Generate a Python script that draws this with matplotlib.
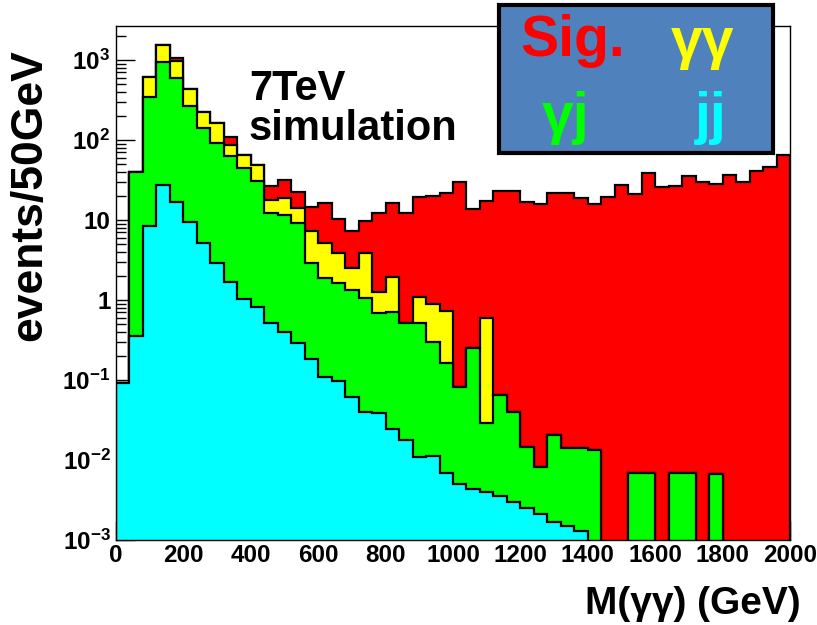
import numpy as np
import matplotlib
matplotlib.use('Agg')
import matplotlib.pyplot as plt
from matplotlib.patches import Rectangle
from matplotlib.ticker import LogLocator, NullFormatter, MultipleLocator

# 50 bins of 40 GeV from 0 to 2000 GeV
bin_edges = np.arange(0, 2001, 40)

# stack levels (each level includes the ones below it)
jj_top = [0.092, 0.355, 8.3, 27.4, 16.9, 9.4, 5.1, 2.9, 1.7, 1.02,
          0.82, 0.51, 0.40, 0.286, 0.181, 0.109, 0.098, 0.061, 0.0394, 0.039,
          0.0242, 0.0178, 0.0108, 0.0112, 0.0069, 0.0050, 0.0044, 0.0040, 0.0035, 0.0030,
          0.0025, 0.0021, 0.0017, 0.0015, 0.0013, 0, 0, 0, 0, 0,
          0, 0, 0, 0, 0, 0, 0, 0, 0, 0]
gj_top = [0.092, 39.8, 348, 952, 590, 266, 140, 91, 63, 44.7,
          31, 12.2, 11.5, 9.25, 2.88, 1.90, 1.64, 1.33, 1.05, 0.683,
          0.714, 0.512, 0.512, 0.299, 0.162, 0.081, 0.249, 0.0288, 0.065, 0.040,
          0.0147, 0.0082, 0.0205, 0.0140, 0.0140, 0.0135, 0, 0, 0.0069, 0.0069,
          0, 0.0069, 0.0068, 0, 0.0066, 0, 0, 0, 0, 0]
gg_top = [0.092, 39.8, 618, 1540, 980, 430, 226, 162, 86.6, 65,
          48.7, 17.8, 18.8, 14.3, 7.29, 5.11, 3.90, 2.49, 3.84, 1.27,
          1.95, 0.512, 1.08, 0.891, 0.729, 0.081, 0.249, 0.601, 0.065, 0.040,
          0.0147, 0.0082, 0.0205, 0.0140, 0.0140, 0.0135, 0, 0, 0.0069, 0.0069,
          0, 0.0069, 0.0068, 0, 0.0066, 0, 0, 0, 0, 0]
sig_top = [0.092, 39.8, 618, 1540, 1050, 430, 226, 162, 110, 65,
           48.7, 26.6, 31.6, 22.6, 14.7, 16.5, 10.3, 7.35, 9.8, 12.3,
           16.5, 12.3, 19.5, 20.1, 21.9, 30.1, 13.6, 17.3, 23.0, 23.0,
           16.9, 15.7, 21.6, 21.6, 18.7, 15.7, 19.5, 27.2, 21.1, 39.0,
           25.5, 26.6, 35.8, 30.1, 28.2, 36.5, 30.1, 41.3, 45.6, 65]

x_ticks = np.arange(0, 2001, 200)
y_ticks = [1e-3, 1e-2, 1e-1, 1, 10, 1e2, 1e3]
y_tick_labels = [r'$\mathbf{10^{-3}}$', r'$\mathbf{10^{-2}}$', r'$\mathbf{10^{-1}}$',
                 '1', '10', r'$\mathbf{10^{2}}$', r'$\mathbf{10^{3}}$']

legend_labels = ['Sig.', 'γγ', 'γj', 'jj']

plt.rcParams['font.family'] = ['Liberation Sans', 'DejaVu Sans']
plt.rcParams['font.weight'] = 'bold'
plt.rcParams['mathtext.fontset'] = 'custom'
plt.rcParams['mathtext.rm'] = 'Liberation Sans:bold'
plt.rcParams['mathtext.bf'] = 'Liberation Sans:bold'

W, H = 817, 625
fig = plt.figure(figsize=(W / 100, H / 100), dpi=100)
ax = fig.add_axes([116 / W, 1 - 540 / H, (790 - 116) / W, (540 - 26) / H])
ax.set_yscale('log')

floor = 1e-6
layers = [(sig_top, '#ff0000'), (gg_top, '#ffff00'), (gj_top, '#00ff00'), (jj_top, '#00ffff')]
for vals, col in layers:
    v = np.clip(np.asarray(vals, dtype=float), floor, None)
    ax.stairs(v, bin_edges, baseline=floor, fill=True, color=col, lw=0)
    ax.stairs(v, bin_edges, baseline=floor, color='black', lw=1.6)

ax.set_xlim(0, 2000)
ax.set_ylim(1e-3, 2660)
ax.set_axisbelow(True)

ax.set_xticks(x_ticks)
ax.xaxis.set_minor_locator(MultipleLocator(50))
ax.set_yticks(y_ticks)
ax.set_yticklabels(y_tick_labels)
ax.yaxis.set_minor_locator(LogLocator(base=10, subs=np.arange(2, 10)))
ax.yaxis.set_minor_formatter(NullFormatter())
ax.tick_params(which='both', direction='in', top=False, right=False, width=1)
ax.tick_params(which='major', length=14)
ax.tick_params(which='minor', length=7)
ax.tick_params(axis='x', labelsize=17.5, pad=3)
ax.tick_params(axis='y', labelsize=17.5, pad=4)
for s in ax.spines.values():
    s.set_linewidth(1)

fig.text(30 / W, 1 - 195 / H, 'events/50GeV', rotation=90, ha='center', va='center',
         fontsize=32, fontweight='bold')
fig.text(801 / W, 1 - 614 / H, 'M(γγ) (GeV)', ha='right', va='baseline',
         fontsize=28, fontweight='bold')

fig.text(249 / W, 1 - 100 / H, '7TeV', ha='left', va='baseline', fontsize=30, fontweight='bold')
fig.text(249 / W, 1 - 140 / H, 'simulation', ha='left', va='baseline', fontsize=30, fontweight='bold')

# legend box
box = Rectangle((499 / W, 1 - 153 / H), (773 - 499) / W, (153 - 5) / H,
                transform=fig.transFigure, facecolor='#4f81bd', edgecolor='black',
                lw=3, zorder=5)
fig.patches.append(box)
leg_pos = [(573, 56), (703, 58), (566, 133), (711, 133)]
leg_cols = ['#ff0000', '#ffff00', '#00ff00', '#00ffff']
for lab, (px, py), c in zip(legend_labels, leg_pos, leg_cols):
    fig.text(px / W, 1 - py / H, lab, ha='center', va='baseline', fontsize=41,
             fontweight='bold', color=c, zorder=6)

fig.savefig('out.png', dpi=100)
